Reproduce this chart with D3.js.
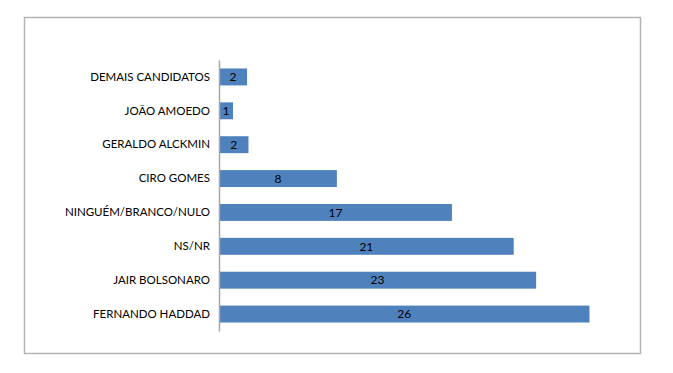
<!DOCTYPE html>
<html>
<head>
    <meta charset="utf-8">
    <title>Intenção de voto</title>
    <script src="https://d3js.org/d3.v7.min.js"></script>
    <style>
        body { margin: 0; background: #fff; }
        text { font-family: Lato, "Open Sans", sans-serif; }
    </style>
</head>
<body>
<div id="chart"></div>
<script>
    // categorias de cima para baixo
    let categorias = ["DEMAIS CANDIDATOS", "JOÃO AMOEDO", "GERALDO ALCKMIN", "CIRO GOMES",
                      "NINGUÉM/BRANCO/NULO", "NS/NR", "JAIR BOLSONARO", "FERNANDO HADDAD"];
    // valores estimados pelo comprimento das barras (rótulos arredondados)
    let valores = [2.0, 1.0, 2.1, 8.4, 16.6, 21.0, 22.6, 26.4];

    let W = 673, H = 373;
    let margin = {top: 60, right: 33, bottom: 42, left: 219};
    let w = W - margin.left - margin.right;
    let h = H - margin.top - margin.bottom;

    let svg = d3.select("#chart")
        .append("svg")
            .attr("width", W)
            .attr("height", H);

    // moldura do gráfico
    svg.append("rect")
        .attr("x", 24.5).attr("y", 17.5)
        .attr("width", 616).attr("height", 336)
        .attr("fill", "none")
        .attr("stroke", "#b4b4b4")
        .attr("stroke-width", 1.5);

    let g = svg.append("g")
        .attr("transform", "translate(" + margin.left + "," + margin.top + ")");

    let xScale = d3.scaleLinear().domain([0, 30]).range([0, w]);
    let yScale = d3.scaleBand()
        .domain(categorias)
        .range([0, h])
        .paddingInner(0.5)
        .paddingOuter(0.25);

    let dados = categorias.map(function(c, i) { return {cat: c, v: valores[i]}; });

    g.selectAll("rect.bar")
        .data(dados)
        .enter()
        .append("rect")
        .attr("class", "bar")
        .attr("x", 0)
        .attr("y", function(d) { return yScale(d.cat); })
        .attr("width", function(d) { return xScale(d.v); })
        .attr("height", yScale.bandwidth())
        .attr("fill", "#4f81bd");

    g.selectAll("text.val")
        .data(dados)
        .enter()
        .append("text")
        .attr("class", "val")
        .attr("x", function(d) { return xScale(d.v) / 2; })
        .attr("y", function(d) { return yScale(d.cat) + yScale.bandwidth() / 2; })
        .attr("dy", "0.35em")
        .attr("text-anchor", "middle")
        .attr("font-size", "12px")
        .attr("fill", "#000")
        .text(function(d) { return Math.round(d.v); });

    // eixo das categorias
    let eixo = g.append("g")
        .call(d3.axisLeft(yScale).tickSize(0).tickPadding(9).tickSizeOuter(0));
    eixo.select(".domain").attr("stroke", "#a6a6a6").attr("stroke-width", 1.5);
    eixo.selectAll("text")
        .attr("font-size", "11.5px")
        .attr("font-family", "Lato, 'Open Sans', sans-serif")
        .attr("fill", "#000");
</script>
</body>
</html>
